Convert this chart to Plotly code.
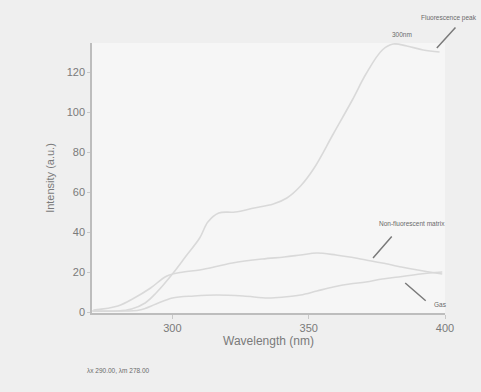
import plotly.graph_objects as go

# Curve A (large, reaches ~130)
wl_a = [270, 280, 285, 290, 294, 300, 305, 310, 313, 317, 323, 330, 337, 342, 347, 352, 359, 366, 371, 377, 381, 386, 392, 398]
int_a = [0.5, 0.5, 1.5, 4.5, 9.5, 19, 28, 37, 45, 49.5, 50, 52, 54, 57, 63, 72, 89, 106, 119, 131, 134, 133, 131, 130]

# Curve B (middle, broad hump)
wl_b = [271, 280, 286, 292, 298, 304, 310, 322, 333, 341, 347, 353, 360, 365, 371, 377, 384, 390, 399]
int_b = [1, 3, 7, 12, 18, 20, 21, 24.5, 26.5, 27.5, 28.5, 29.5, 28.5, 27.5, 26, 24.5, 22.5, 21, 19]

# Curve C (lowest)
wl_c = [271, 280, 288, 294, 300, 308, 316, 326, 335, 341, 347, 353, 359, 365, 371, 377, 383, 391, 399]
int_c = [0.5, 0.5, 1, 4, 7, 8, 8.5, 8, 7, 7.5, 8.5, 10.5, 12.5, 14, 15, 16.5, 17.5, 19, 20]

x_ticks = [300, 350, 400]
y_ticks = [0, 20, 40, 60, 80, 100, 120]

W, H = 481, 392
ML, MR, MT, MB = 92, 36, 43, 79

line_col = "#d9d9d9"
fig = go.Figure()
for xs, ys in [(wl_a, int_a), (wl_b, int_b), (wl_c, int_c)]:
    fig.add_trace(go.Scatter(x=xs, y=ys, mode="lines", line=dict(color=line_col, width=1.6, shape="spline"),
                             showlegend=False, hoverinfo="skip"))

fnt = dict(family="Liberation Sans, Arial, sans-serif", color="#7a7a7a")
fig.update_layout(
    width=W, height=H,
    margin=dict(l=ML, r=MR, t=MT, b=MB),
    paper_bgcolor="#efefef", plot_bgcolor="#f6f6f6",
    font=dict(family="Liberation Sans, Arial, sans-serif", size=11, color="#7a7a7a"),
    xaxis=dict(range=[270.5, 400], tickvals=x_ticks, ticktext=[str(v) for v in x_ticks],
               showgrid=False, zeroline=False, showline=True, linecolor="#bdbdbd", linewidth=1.5,
               ticks="outside", ticklen=4, tickcolor="#c8c8c8", automargin=False,
               tickfont=dict(size=11, **fnt),
               title=dict(text="Wavelength (nm)", font=dict(size=12, **fnt), standoff=4)),
    yaxis=dict(range=[-0.5, 134.5], tickvals=y_ticks, ticktext=[str(v) for v in y_ticks],
               showgrid=False, zeroline=False, showline=True, linecolor="#bdbdbd", linewidth=1.5,
               ticks="outside", ticklen=3, tickcolor="#c8c8c8", automargin=False,
               tickfont=dict(size=11, **fnt),
               title=dict(text="Intensity (a.u.)", font=dict(size=11, **fnt), standoff=10)),
)


def px_to_paper(px, py):
    return (px - ML) / (W - ML - MR), (H - MB - py) / (H - MT - MB)


ann_font = dict(family="Liberation Sans, Arial, sans-serif", size=6.5, color="#6a6a6a")
arrow = dict(showarrow=True, arrowhead=0, arrowwidth=1.5, arrowcolor="#7a7a7a", text="")

# arrows (point in data coords, tail offset in pixels)
fig.add_annotation(x=397, y=132, xref="x", yref="y", ax=20, ay=-22, **arrow)
fig.add_annotation(x=373.6, y=27, xref="x", yref="y", ax=20, ay=-23, **arrow)
fig.add_annotation(x=385.4, y=14.5, xref="x", yref="y", ax=22, ay=19, **arrow)

# texts placed by pixel position
labels = [
    ("Fluorescence peak", 479, 18, "right"),
    ("300nm", 402, 35, "center"),
    ("Non-fluorescent matrix", 412, 223, "center"),
    ("Gas", 440, 304, "center"),
    ("λx 290.00, λm 278.00", 85, 370, "left"),
]
for txt, px, py, anc in labels:
    xp, yp = px_to_paper(px, py)
    fig.add_annotation(x=xp, y=yp, xref="paper", yref="paper", text=txt, showarrow=False,
                       font=ann_font, xanchor=anc, yanchor="middle")

fig.write_html("out.html", config={"displayModeBar": False},
               post_script="document.body.style.margin='0';document.body.style.background='#efefef';")
